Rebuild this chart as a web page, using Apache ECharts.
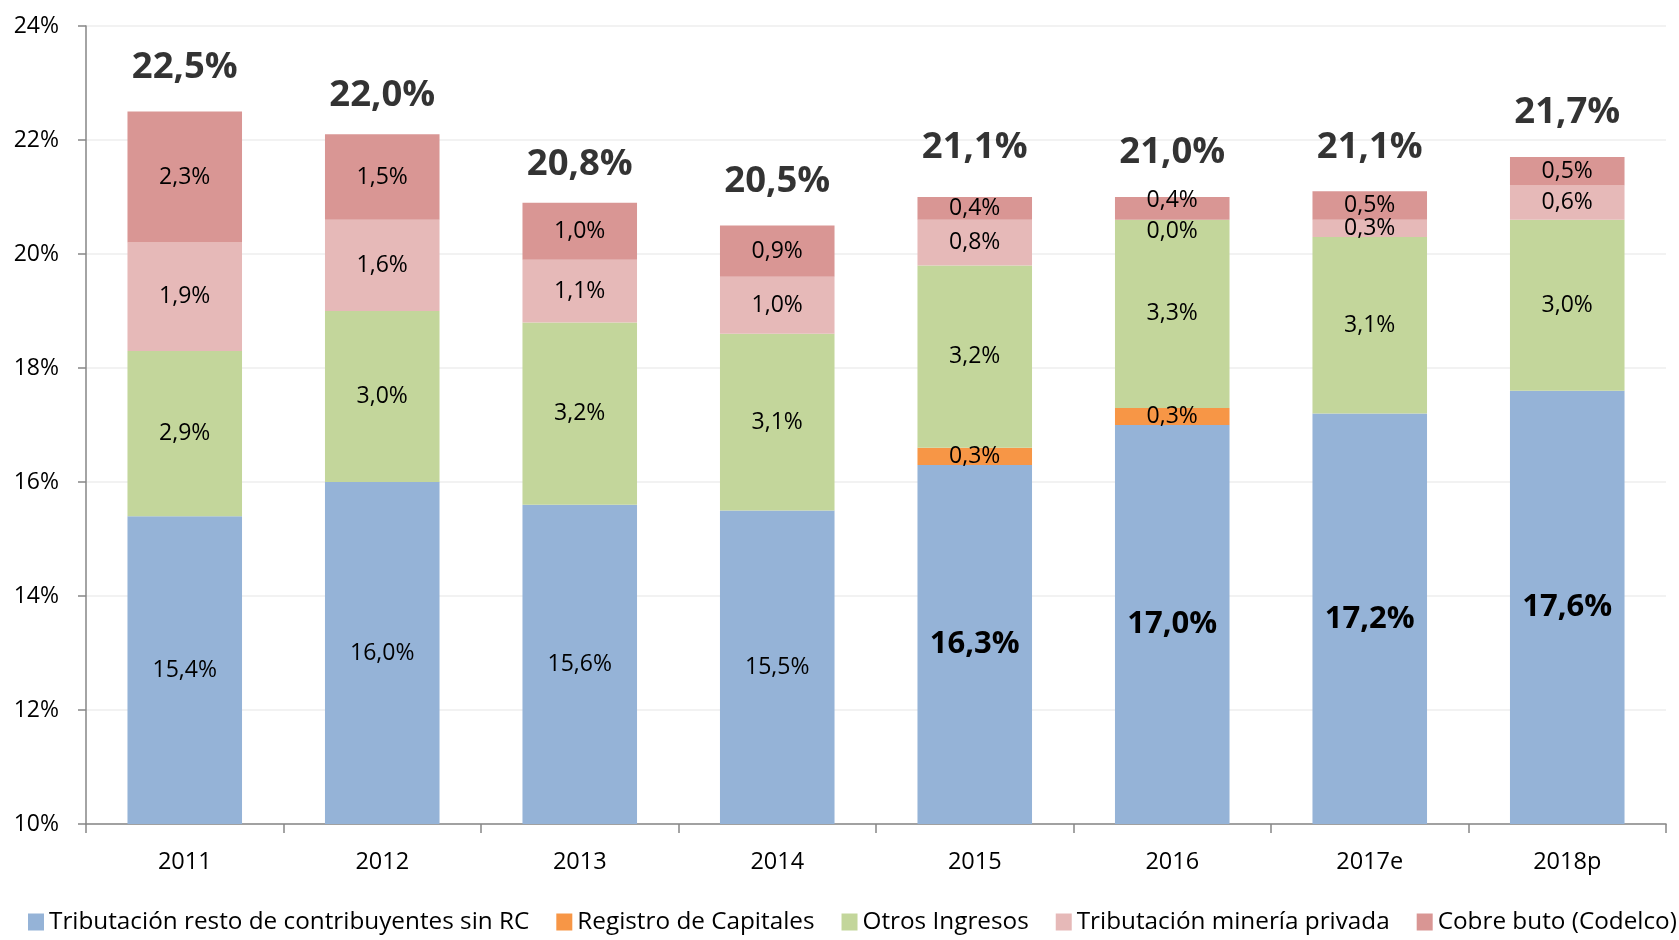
<!DOCTYPE html>
<html>
<head>
<meta charset="utf-8">
<script src="https://cdn.jsdelivr.net/npm/echarts@6/dist/echarts.min.js"></script>
<style>
html,body{margin:0;padding:0;background:#fff;}
#chart{width:1679px;height:940px;}
</style>
</head>
<body>
<div id="chart"></div>
<script>
const categories = ['2011', '2012', '2013', '2014', '2015', '2016', '2017e', '2018p'];
const tributacionResto = [15.4, 16.0, 15.6, 15.5, 16.3, 17.0, 17.2, 17.6];
const registroCapitales = [null, null, null, null, 0.3, 0.3, null, null];
const otrosIngresos = [2.9, 3.0, 3.2, 3.1, 3.2, 3.3, 3.1, 3.0];
const mineriaPrivada = [1.9, 1.6, 1.1, 1.0, 0.8, 0.0, 0.3, 0.6];
const cobreBruto = [2.3, 1.5, 1.0, 0.9, 0.4, 0.4, 0.5, 0.5];
const totals = [22.5, 22.0, 20.8, 20.5, 21.1, 21.0, 21.1, 21.7];
const seriesNames = ['Tributación resto de contribuyentes sin RC', 'Registro de Capitales', 'Otros Ingresos', 'Tributación minería privada', 'Cobre buto (Codelco)'];

const FONT = 'Open Sans';
const colors = ['#95B3D7', '#F79646', '#C3D69B', '#E6B9B8', '#D99694'];
const fmt = v => v.toFixed(1).replace('.', ',') + '%';

function barSeries(name, values, color, itemFn) {
  return {
    name: name,
    type: 'bar',
    stack: 'total',
    barWidth: '58%',
    itemStyle: { color: color },
    label: {
      show: true,
      position: 'inside',
      color: '#000',
      fontFamily: FONT,
      fontSize: 23,
      formatter: p => (p.value == null ? '' : fmt(p.value))
    },
    data: values.map((v, i) => itemFn ? itemFn(v, i) : v)
  };
}

const chart = echarts.init(document.getElementById('chart'), null, { renderer: 'canvas' });
chart.setOption({
  animation: false,
  backgroundColor: '#fff',
  grid: { left: 86, right: 13, top: 26, bottom: 116 },
  legend: {
    data: seriesNames,
    left: 23,
    top: 905,
    width: 1720,
    icon: 'rect',
    itemWidth: 16,
    itemHeight: 17,
    itemGap: 27,
    textStyle: { fontFamily: FONT, fontSize: 24.3, color: '#000' }
  },
  xAxis: {
    type: 'category',
    data: categories,
    axisLine: { lineStyle: { color: '#868686', width: 1.5 } },
    axisTick: { show: true, length: 9, lineStyle: { color: '#868686', width: 1.5 } },
    axisLabel: { fontFamily: FONT, fontSize: 23.5, color: '#000', margin: 26 }
  },
  yAxis: {
    type: 'value',
    min: 10,
    max: 24,
    interval: 2,
    axisLine: { show: true, lineStyle: { color: '#868686', width: 1.5 } },
    axisTick: { show: true, length: 8, lineStyle: { color: '#868686', width: 1.5 } },
    splitLine: { show: true, lineStyle: { color: '#EEEEEE', width: 1.5 } },
    axisLabel: { fontFamily: FONT, fontSize: 23, color: '#000', margin: 27, formatter: v => v + '%' }
  },
  series: [
    barSeries(seriesNames[0], tributacionResto, colors[0], (v, i) => i >= 4
      ? { value: v, label: { fontWeight: 'bold', fontSize: 31 } } : v),
    barSeries(seriesNames[1], registroCapitales, colors[1]),
    barSeries(seriesNames[2], otrosIngresos, colors[2]),
    barSeries(seriesNames[3], mineriaPrivada, colors[3], v => v === 0
      ? { value: v, label: { offset: [0, 12] } } : v),
    barSeries(seriesNames[4], cobreBruto, colors[4], (v, i) => mineriaPrivada[i] === 0
      ? { value: v, label: { offset: [0, -8] } } : v),
    {
      name: 'Total',
      type: 'scatter',
      symbolSize: 1,
      silent: true,
      itemStyle: { color: 'rgba(0,0,0,0)' },
      label: {
        show: true,
        position: 'top',
        distance: 25,
        color: '#000',
        fontFamily: FONT,
        fontWeight: 'bold',
        fontSize: 36.5,
        formatter: p => fmt(p.value)
      },
      data: totals
    }
  ]
});
</script>
</body>
</html>
